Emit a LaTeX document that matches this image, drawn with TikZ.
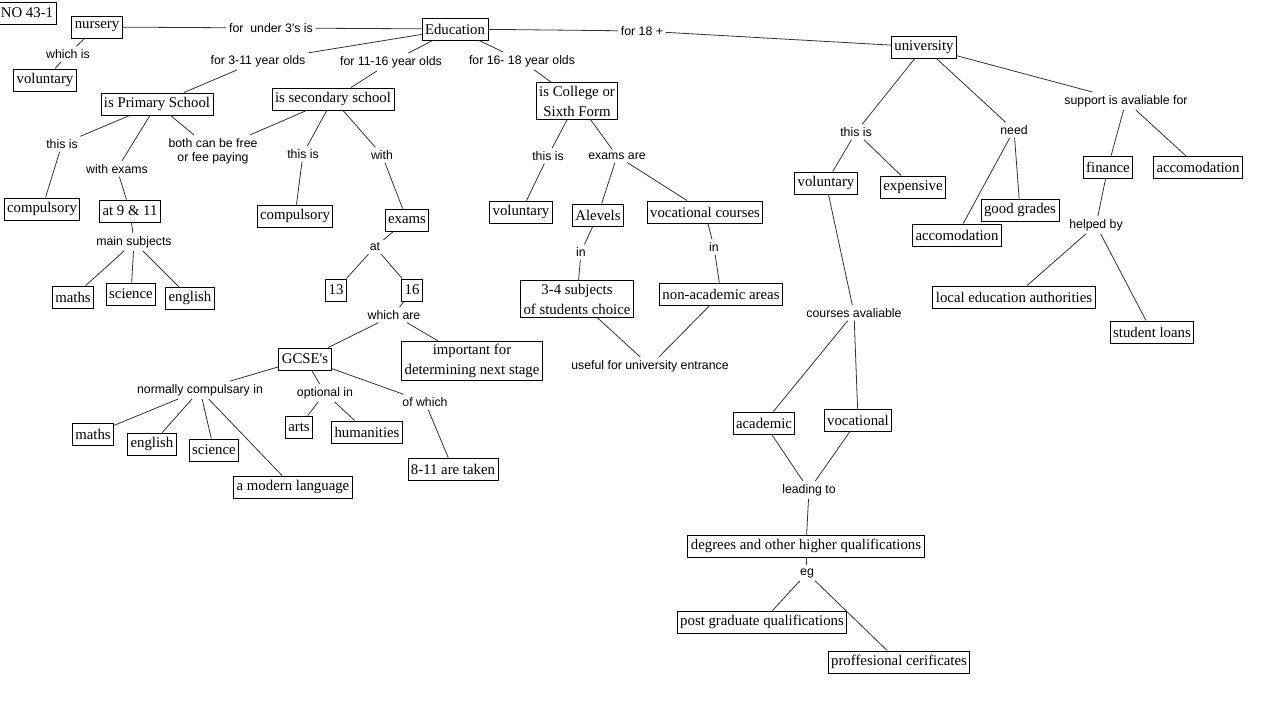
\documentclass[tikz,border=0pt]{standalone}
\usepackage{fontspec}
\newfontfamily\conceptfont{Liberation Serif}
\newfontfamily\phrasefont{Liberation Sans}

\begin{document}
\begin{tikzpicture}[
  x=1pt, y=-1pt,
  every node/.style={align=center},
  concept/.style={draw, line width=0.9pt, inner xsep=3pt, inner ysep=3pt, minimum height=22pt, font=\conceptfont\fontsize{14.8}{20}\selectfont},
  phrase/.style={inner sep=3pt, font=\phrasefont\fontsize{12.3}{14}\selectfont},
  wire/.style={draw=black!80, line width=0.8pt}
]
\useasboundingbox (0,0) rectangle (1287,714);

% Concepts (top row)
\node[concept] (title)     at (27,13)   {NO 43-1};
\node[concept] (nursery)   at (97,27)   {nursery};
\node[concept] (volnur)    at (45,80)   {voluntary};
\node[concept] (edu)       at (455,29)  {Education};
\node[concept] (uni)       at (924,47)  {university};

% Primary & secondary
\node[concept] (primary)   at (157,104) {is Primary School};
\node[concept] (secondary) at (333,99)  {is secondary school};
\node[concept] (comp1)     at (42,209)  {compulsory};
\node[concept] (at911)     at (130,211) {at 9 \& 11};
\node[concept] (maths1)    at (73,297)  {maths};
\node[concept] (science1)  at (131,294) {science};
\node[concept] (english1)  at (190,298) {english};
\node[concept] (comp2)     at (295,216) {compulsory};
\node[concept] (exams)     at (407,220) {exams};
\node[concept] (y13)       at (336,290) {13};
\node[concept] (y16)       at (412,290) {16};
\node[concept] (gcse)      at (305,359) {GCSE's};
\node[concept] (important) at (472,361) {important for\\determining next stage};
\node[concept] (maths2)    at (93,434)  {maths};
\node[concept] (english2)  at (152,444) {english};
\node[concept] (science2)  at (214,450) {science};
\node[concept] (language)  at (293,487) {a modern language};
\node[concept] (arts)      at (299,427) {arts};
\node[concept] (humanities) at (367,432) {humanities};
\node[concept] (taken)     at (453,469) {8-11 are taken};

% College
\node[concept] (college)   at (577,101) {is College or\\Sixth Form};
\node[concept] (volcol)    at (521,212) {voluntary};
\node[concept] (alevels)   at (598,215) {Alevels};
\node[concept] (voccourses) at (705,212) {vocational courses};
\node[concept] (subjects)  at (577,299) {3-4 subjects\\of students choice};
\node[concept] (nonacad)   at (721,294) {non-academic areas};

% University
\node[concept] (voluni)    at (826,183) {voluntary};
\node[concept] (expensive) at (913,187) {expensive};
\node[concept] (accom1)    at (957,235) {accomodation};
\node[concept] (grades)    at (1020,210) {good grades};
\node[concept] (finance)   at (1108,167) {finance};
\node[concept] (accom2)    at (1198,167) {accomodation};
\node[concept] (lea)       at (1014,297) {local education authorities};
\node[concept] (loans)     at (1152,332) {student loans};
\node[concept] (academic)  at (764,423) {academic};
\node[concept] (vocational) at (858,420) {vocational};
\node[concept] (degrees)   at (806,546) {degrees and other higher qualifications};
\node[concept] (postgrad)  at (762,622) {post graduate qualifications};
\node[concept] (certs)     at (899,662) {proffesional cerificates};

% Linking phrases
\node[phrase] (under3)    at (271,28)  {for\ \ under 3's is};
\node[phrase] (whichis)   at (68,54)   {which is};
\node[phrase] (p311)      at (258,61)  {for 3-11 year olds};
\node[phrase] (p1116)     at (391,62)  {for 11-16 year olds};
\node[phrase] (p1618)     at (522,61)  {for 16- 18 year olds};
\node[phrase] (p18)       at (642,31)  {for 18 +};
\node[phrase] (thisis1)   at (62,144)  {this is};
\node[phrase] (withexams) at (117,169) {with exams};
\node[phrase] (free)      at (213,151) {both can be free\\or fee paying};
\node[phrase] (mainsub)   at (134,242) {main subjects};
\node[phrase] (thisis2)   at (303,154) {this is};
\node[phrase] (with)      at (382,155) {with};
\node[phrase] (atp)       at (375,247) {at};
\node[phrase] (whichare)  at (394,315) {which are};
\node[phrase] (normally)  at (200,390) {normally compulsary in};
\node[phrase] (optional)  at (325,393) {optional in};
\node[phrase] (ofwhich)   at (425,402) {of which};
\node[phrase] (thisis3)   at (548,156) {this is};
\node[phrase] (examsare)  at (617,156) {exams are};
\node[phrase] (in1)       at (581,252) {in};
\node[phrase] (in2)       at (714,247) {in};
\node[phrase] (useful)    at (650,366) {useful for university entrance};
\node[phrase] (thisis4)   at (856,132) {this is};
\node[phrase] (need)      at (1014,130) {need};
\node[phrase] (support)   at (1126,101) {support is avaliable for};
\node[phrase] (helped)    at (1096,225) {helped by};
\node[phrase] (courses)   at (854,313) {courses avaliable};
\node[phrase] (leading)   at (809,490) {leading to};
\node[phrase] (eg)        at (807,573) {eg};

% Links from Education
\draw[wire] (nursery) -- (under3);
\draw[wire] (under3) -- (edu);
\draw[wire] (nursery) -- (whichis);
\draw[wire] (whichis) -- (volnur);
\draw[wire] (edu) -- (p311);
\draw[wire] (p311) -- (primary);
\draw[wire] (edu) -- (p1116);
\draw[wire] (p1116) -- (secondary);
\draw[wire] (edu) -- (p1618);
\draw[wire] (p1618) -- (college);
\draw[wire] (edu) -- (p18);
\draw[wire] (p18) -- (uni);

% Primary school
\draw[wire] (primary) -- (thisis1);
\draw[wire] (thisis1) -- (comp1);
\draw[wire] (primary) -- (withexams);
\draw[wire] (withexams) -- (at911);
\draw[wire] (primary) -- (free);
\draw[wire] (secondary) -- (free);
\draw[wire] (at911) -- (mainsub);
\draw[wire] (mainsub) -- (maths1);
\draw[wire] (mainsub) -- (science1);
\draw[wire] (mainsub) -- (english1);

% Secondary school
\draw[wire] (secondary) -- (thisis2);
\draw[wire] (thisis2) -- (comp2);
\draw[wire] (secondary) -- (with);
\draw[wire] (with) -- (exams);
\draw[wire] (exams) -- (atp);
\draw[wire] (atp) -- (y13);
\draw[wire] (atp) -- (y16);
\draw[wire] (y16) -- (whichare);
\draw[wire] (whichare) -- (gcse);
\draw[wire] (whichare) -- (important);
\draw[wire] (gcse) -- (normally);
\draw[wire] (normally) -- (maths2);
\draw[wire] (normally) -- (english2);
\draw[wire] (normally) -- (science2);
\draw[wire] (normally) -- (language);
\draw[wire] (gcse) -- (optional);
\draw[wire] (optional) -- (arts);
\draw[wire] (optional) -- (humanities);
\draw[wire] (gcse) -- (ofwhich);
\draw[wire] (ofwhich) -- (taken);

% College
\draw[wire] (college) -- (thisis3);
\draw[wire] (thisis3) -- (volcol);
\draw[wire] (college) -- (examsare);
\draw[wire] (examsare) -- (alevels);
\draw[wire] (examsare) -- (voccourses);
\draw[wire] (alevels) -- (in1);
\draw[wire] (in1) -- (subjects);
\draw[wire] (voccourses) -- (in2);
\draw[wire] (in2) -- (nonacad);
\draw[wire] (subjects) -- (useful);
\draw[wire] (nonacad) -- (useful);

% University
\draw[wire] (uni) -- (thisis4);
\draw[wire] (thisis4) -- (voluni);
\draw[wire] (thisis4) -- (expensive);
\draw[wire] (uni) -- (need);
\draw[wire] (need) -- (accom1);
\draw[wire] (need) -- (grades);
\draw[wire] (uni) -- (support);
\draw[wire] (support) -- (finance);
\draw[wire] (support) -- (accom2);
\draw[wire] (finance) -- (helped);
\draw[wire] (helped) -- (lea);
\draw[wire] (helped) -- (loans);
\draw[wire] (voluni) -- (courses);
\draw[wire] (courses) -- (academic);
\draw[wire] (courses) -- (vocational);
\draw[wire] (academic) -- (leading);
\draw[wire] (vocational) -- (leading);
\draw[wire] (leading) -- (degrees);
\draw[wire] (degrees) -- (eg);
\draw[wire] (eg) -- (postgrad);
\draw[wire] (eg) -- (certs);

\end{tikzpicture}
\end{document}
